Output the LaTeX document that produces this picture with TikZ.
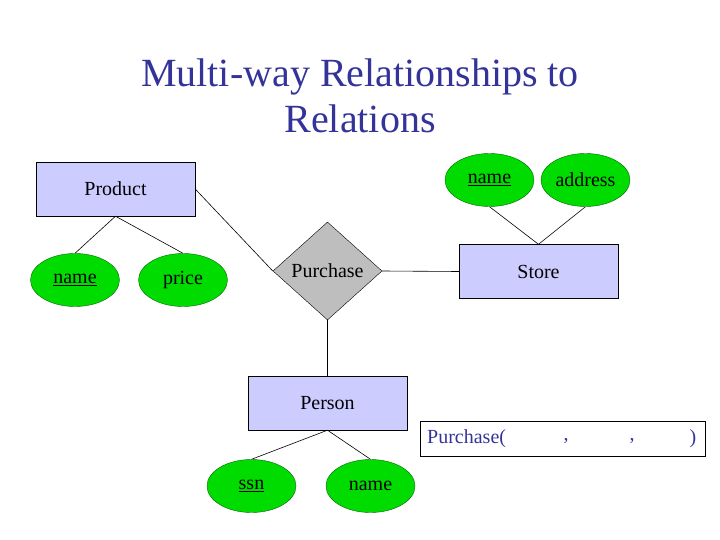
\documentclass[tikz,border=0pt]{standalone}
\usepackage{fontspec}
\setmainfont{Liberation Serif}
\usetikzlibrary{shapes.geometric}
\definecolor{ent}{RGB}{204,204,255}
\definecolor{att}{RGB}{0,220,0}
\definecolor{rel}{RGB}{190,190,190}
\definecolor{ttl}{RGB}{51,51,153}
\tikzset{
 entity/.style={draw, fill=ent, minimum width=159pt, minimum height=54pt, inner sep=0, font=\fontsize{20}{22}\selectfont},
 attr/.style={draw=green!40!black, fill=att, ellipse, minimum width=89pt, minimum height=53pt, inner sep=0, font=\fontsize{20}{22}\selectfont},
 relsh/.style={draw, fill=rel, diamond, minimum width=109pt, minimum height=98pt, inner sep=0, font=\fontsize{20}{22}\selectfont},
 conn/.style={draw, line width=0.6pt},
}
\begin{document}
\begin{tikzpicture}[x=1pt,y=-1pt]
\useasboundingbox (0,0) rectangle (720,540);
\node[text=ttl, font=\fontsize{40}{46}\selectfont, align=center] (title) at (360,96) {Multi-way Relationships to\\Relations};
\node[entity] (product) at (115.5,189) {Product};
\node[attr] (pname) at (75,280) {\underline{name}};
\node[attr] (price) at (183,280) {price};
\node[relsh] (purchase) at (327.5,271) {Purchase};
\node[entity] (store) at (538.5,271.5) {Store};
\node[attr] (sname) at (489.5,180) {\underline{name}};
\node[attr] (addr) at (585.5,180) {address};
\node[entity] (person) at (327.5,403) {Person};
\node[attr] (ssn) at (251.5,486) {\underline{ssn}};
\node[attr] (ppname) at (370.5,486) {name};
\node[draw, minimum width=285pt, minimum height=35pt, inner sep=0] (rbox) at (562.5,438.5) {};
\node[anchor=west, text=ttl, font=\fontsize{20}{22}\selectfont, inner sep=0] (rtext) at (427,438.5) {Purchase(};
\node[text=ttl, font=\fontsize{20}{22}\selectfont, inner sep=0] (c1) at (566,441) {,};
\node[text=ttl, font=\fontsize{20}{22}\selectfont, inner sep=0] (c2) at (632,441) {,};
\node[text=ttl, font=\fontsize{20}{22}\selectfont, inner sep=0] (cp) at (693,438.5) {)};
\draw[conn] (product.south) -- (pname.north);
\draw[conn] (product.south) -- (price.north);
\draw[conn] (product.east) -- (purchase.west);
\draw[conn] (purchase.east) -- (store.west);
\draw[conn] (purchase.south) -- (person.north);
\draw[conn] (sname.south) -- (store.north);
\draw[conn] (addr.south) -- (store.north);
\draw[conn] (person.south) -- (ssn.north);
\draw[conn] (person.south) -- (ppname.north);
\end{tikzpicture}
\end{document}
